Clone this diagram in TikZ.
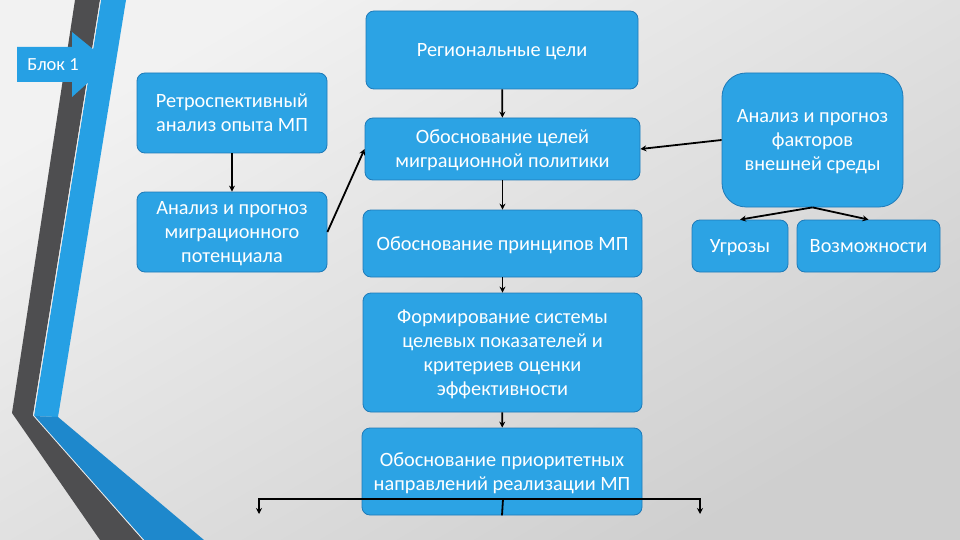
\documentclass[tikz,border=0pt]{standalone}
\usepackage{fontspec}
\setmainfont{Carlito}
\usetikzlibrary{arrows.meta}
\definecolor{boxblue}{RGB}{44,163,228}
\definecolor{boxline}{RGB}{30,122,184}
\definecolor{ribbondark}{RGB}{78,78,80}
\definecolor{ribbonblue}{RGB}{38,160,228}
\definecolor{ribbondeep}{RGB}{30,136,204}
\begin{document}
\begin{tikzpicture}[x=1pt, y=-1pt,
    box/.style={rectangle, rounded corners=8pt, draw=boxline, line width=0.8pt, fill=boxblue,
      text=white, align=center, inner sep=2pt, text depth=0pt, font=\fontsize{20.3}{24}\selectfont},
    arr/.style={-{Stealth[length=6pt, width=6pt]}, line width=1.8pt, black}]
    \useasboundingbox (0,0) rectangle (960,540);
    \shade[top color=gray!10!white, bottom color=gray!38!white, shading angle=30] (0,0) rectangle (960,540);

    % ribbons on the left
    \fill[ribbondark] (75,0) -- (100,0) -- (33,415) -- (143,540) -- (100,540) -- (12,413) -- cycle;
    \fill[ribbonblue] (101,0) -- (126,0) -- (58,417) -- (34,416) -- cycle;
    \fill[ribbondeep] (34,416) -- (58,417) -- (204,540) -- (144,540) -- cycle;
    \draw[white!85!gray, line width=0.8pt] (100.5,0) -- (33.5,415.5) -- (143.5,540);

    % block label
    \fill[ribbonblue] (17,47) -- (72,47) -- (72,32) -- (110,63) -- (72,97) -- (72,82) -- (17,82) -- cycle;
    \node (blok) at (53,65) [text=white, font=\fontsize{18.5}{20}\selectfont] {Блок 1};

    % central column
    \node (reg) at (502,50) [box, minimum width=272pt, minimum height=78pt] {Региональные цели};
    \node (cel) at (502.5,149) [box, minimum width=275pt, minimum height=62pt] {Обоснование целей\\миграционной политики};
    \node (prin) at (502.5,243.5) [box, minimum width=279pt, minimum height=67pt] {Обоснование принципов МП};
    \node (form) at (502.5,352.5) [box, minimum width=279pt, minimum height=119pt] {Формирование системы\\целевых показателей и\\критериев оценки\\эффективности};
    \node (prior) at (502,471.5) [box, minimum width=280pt, minimum height=87pt] {Обоснование приоритетных\\направлений реализации МП};
    \draw[arr] (reg) -- (cel);
    \draw[arr] (cel) -- (prin);
    \draw[arr] (prin) -- (form);
    \draw[arr] (form) -- (prior);

    % left column
    \node (retro) at (232,113) [box, minimum width=190pt, minimum height=80pt] {Ретроспективный\\анализ опыта МП};
    \node (migr) at (232,232) [box, minimum width=190pt, minimum height=80pt] {Анализ и прогноз\\миграционного\\потенциала};
    \draw[arr] (retro) -- (migr);
    \draw[arr] (migr.east) -- (cel.west);

    % right column
    \node (fakt) at (812.5,140) [box, rounded corners=24pt, minimum width=181pt, minimum height=134pt] {Анализ и прогноз\\факторов\\внешней среды};
    \node (ugr) at (740,246) [box, minimum width=96pt, minimum height=52pt] {Угрозы};
    \node (voz) at (868.5,246) [box, minimum width=143pt, minimum height=52pt] {Возможности};
    \draw[arr] (fakt.west) -- (cel.east);
    \draw[arr] (fakt.south) -- (ugr.north);
    \draw[arr] (fakt.south) -- (voz.north);

    % outputs
    \coordinate (split) at (503,499);
    \coordinate (outL) at (259,514);
    \coordinate (outR) at (700,514);
    \draw[line width=1.8pt] (prior.south) -- (split);
    \draw[arr] (split) -| (outL);
    \draw[arr] (split) -| (outR);
\end{tikzpicture}
\end{document}
